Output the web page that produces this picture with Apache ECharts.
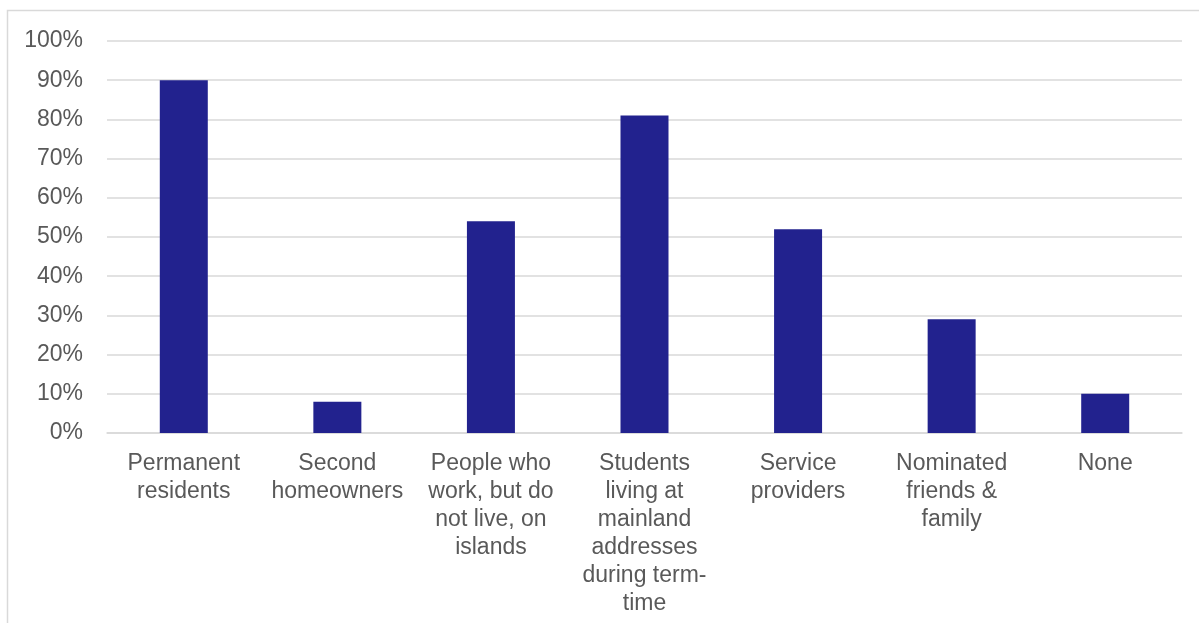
<!DOCTYPE html>
<html>
<head>
<meta charset="utf-8">
<script src="https://cdn.jsdelivr.net/npm/echarts@6/dist/echarts.min.js"></script>
<style>
html,body{margin:0;padding:0;background:#fff;}
#chart{width:1199px;height:623px;}
</style>
</head>
<body>
<div id="chart"></div>
<script>
const categories = [
  "Permanent\nresidents",
  "Second\nhomeowners",
  "People who\nwork, but do\nnot live, on\nislands",
  "Students\nliving at\nmainland\naddresses\nduring term-\ntime",
  "Service\nproviders",
  "Nominated\nfriends &\nfamily",
  "None"
];
const values = [90, 8, 54, 81, 52, 29, 10];

const chart = echarts.init(document.getElementById('chart'));
chart.setOption({
  animation: false,
  graphic: [{
    type: 'polyline',
    shape: { points: [[7.5, 640], [7.5, 10.5], [1220, 10.5]] },
    style: { stroke: '#d9d9d9', lineWidth: 1.5, fill: null }
  }],
  grid: { left: 107, right: 17, top: 41, bottom: 190, containLabel: false },
  xAxis: {
    type: 'category',
    data: categories,
    axisLine: { show: true, lineStyle: { color: '#d9d9d9', width: 1.5 } },
    axisTick: { show: false },
    axisLabel: {
      interval: 0,
      color: '#595959',
      fontFamily: 'Liberation Sans, Arial, sans-serif',
      fontSize: 23,
      lineHeight: 28,
      margin: 17
    }
  },
  yAxis: {
    type: 'value',
    min: 0, max: 100, interval: 10,
    axisLine: { show: false },
    axisTick: { show: false },
    splitLine: { lineStyle: { color: '#d9d9d9', width: 1.5 } },
    axisLabel: {
      formatter: '{value}%',
      color: '#595959',
      fontFamily: 'Liberation Sans, Arial, sans-serif',
      fontSize: 23,
      margin: 24
    }
  },
  series: [{
    type: 'bar',
    data: values,
    barWidth: 48,
    itemStyle: { color: '#22228E' }
  }]
});
</script>
</body>
</html>
